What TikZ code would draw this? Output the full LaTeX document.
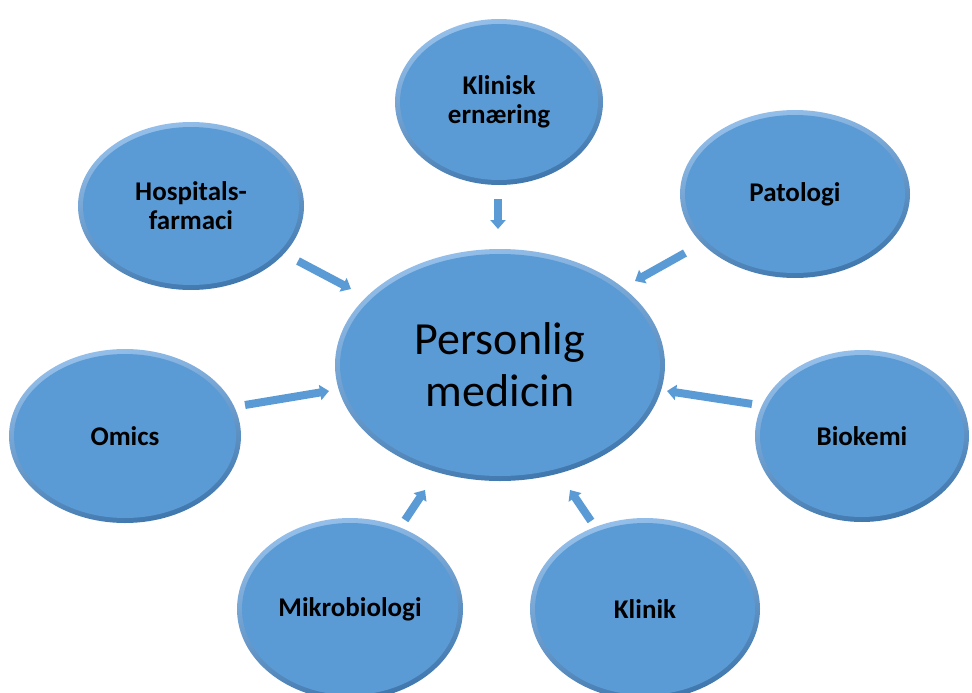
\documentclass[tikz,border=0pt]{standalone}
\usepackage{fontspec}
\setmainfont{Carlito}
\usetikzlibrary{shapes.geometric,arrows.meta,calc}
\definecolor{bub}{RGB}{91,155,213}
\definecolor{bublight}{RGB}{150,192,235}
\definecolor{bubdark}{RGB}{62,118,172}
\tikzset{
  bubble/.style={ellipse, inner sep=0pt, top color=bublight, bottom color=bubdark, shading angle=15,
    path picture={\path let \p1=(path picture bounding box.north east), \p2=(path picture bounding box.center) in
      [fill=bub] (\p2) ellipse [x radius={\x1-\x2-5pt}, y radius={\y1-\y2-5pt}];},
    font=\bfseries\fontsize{27}{29}\selectfont, align=center, text=black},
  conn/.style={draw=bub, line width=8pt, -{Triangle[length=9pt,width=15pt]}},
}
\begin{document}
\begin{tikzpicture}[x=1pt,y=-1pt]
\useasboundingbox (0,0) rectangle (972,693);
\node[bubble, minimum width=330pt, minimum height=232pt, font=\fontsize{46}{52}\selectfont] (pm) at (500,365) {Personlig\\medicin};
\node[bubble, minimum width=208pt, minimum height=166pt] (ke) at (499,102) {Klinisk\\ernæring};
\node[bubble, minimum width=226pt, minimum height=168pt] (hf) at (191,206) {Hospitals-\\farmaci};
\node[bubble, minimum width=230pt, minimum height=168pt] (pa) at (795,194) {Patologi};
\node[bubble, minimum width=232pt, minimum height=174pt] (om) at (125,436) {Omics};
\node[bubble, minimum width=214pt, minimum height=172pt] (bk) at (862,436) {Biokemi};
\node[bubble, minimum width=226pt, minimum height=182pt] (mb) at (350,609) {Mikrobiologi};
\node[bubble, minimum width=230pt, minimum height=182pt] (kl) at (645,609) {Klinik};
\coordinate (kes) at (498,199); \coordinate (kee) at (498,229);
\coordinate (hfs) at (298,261); \coordinate (hfe) at (351,289);
\coordinate (pas) at (685,253); \coordinate (pae) at (635,281);
\coordinate (oms) at (245,405); \coordinate (ome) at (329,391);
\coordinate (bks) at (752,404); \coordinate (bke) at (667,391);
\coordinate (mbs) at (405,520); \coordinate (mbe) at (425,490);
\coordinate (kls) at (591,521); \coordinate (kle) at (570,490);
\draw[conn] (kes) -- (kee);
\draw[conn] (hfs) -- (hfe);
\draw[conn] (pas) -- (pae);
\draw[conn] (oms) -- (ome);
\draw[conn] (bks) -- (bke);
\draw[conn] (mbs) -- (mbe);
\draw[conn] (kls) -- (kle);
\end{tikzpicture}
\end{document}
